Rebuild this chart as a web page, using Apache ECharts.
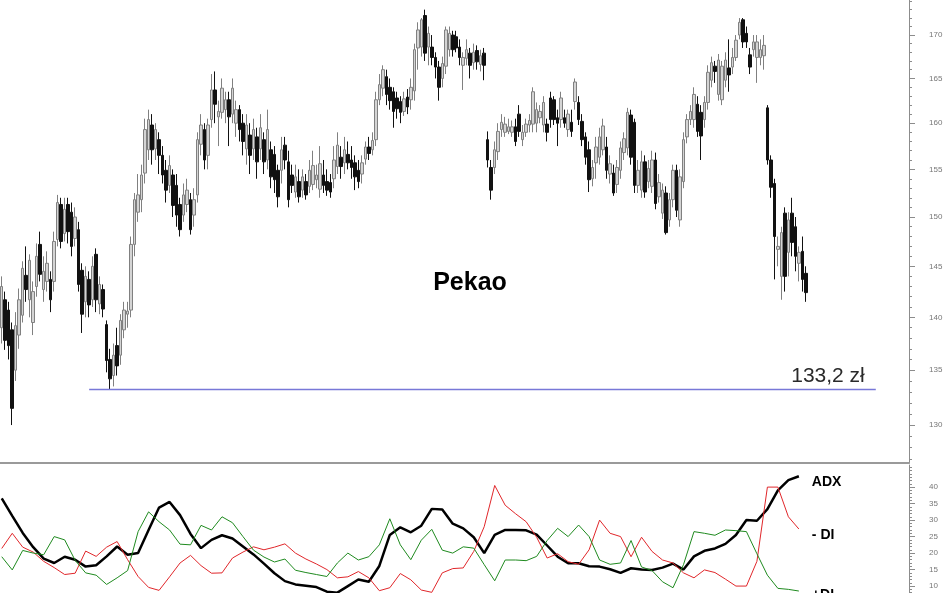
<!DOCTYPE html>
<html><head><meta charset="utf-8">
<script src="https://cdn.jsdelivr.net/npm/echarts@6/dist/echarts.min.js"></script>
<style>html,body{margin:0;padding:0;background:#fff}#c{width:948px;height:593px}</style>
</head><body><div id="c"></div>
<script>
// [open, close, low, high]
const ohlc = [
[139.0,143.0,137.5,144.0],[141.7,137.8,136.9,142.5],[140.7,137.3,136.0,141.5],[138.8,131.5,130.0,139.5],
[135.0,139.2,134.0,140.5],[138.3,141.7,137.0,142.8],[140.2,144.8,139.5,145.5],[144.1,142.7,141.5,147.0],
[141.7,145.6,140.0,146.2],[139.5,142.5,138.3,143.5],[143.0,146.0,142.0,147.3],[147.2,144.2,143.5,148.5],
[142.7,144.5,141.5,146.0],[143.5,145.3,142.5,146.5],[143.7,141.7,140.5,144.5],[143.5,147.5,142.5,148.5],
[147.7,151.5,147.0,152.3],[151.3,147.5,146.8,152.0],[148.3,150.8,147.5,152.0],[151.3,148.5,147.3,152.0],
[150.5,147.0,146.0,151.5],[147.8,150.0,147.0,151.0],[148.7,143.2,142.5,149.5],[144.6,140.3,138.5,145.3],
[141.5,144.0,140.0,145.0],[143.7,141.2,140.0,144.5],[141.7,145.0,141.0,146.0],[146.2,141.7,140.5,146.8],
[141.3,143.2,140.3,144.0],[142.7,140.8,140.0,143.2],[139.3,135.9,134.8,139.7],
[136.0,134.2,133.2,137.0],[134.5,136.4,133.5,137.5],[137.3,135.4,134.5,139.0],[136.4,139.7,135.5,140.3],
[138.8,140.7,138.0,141.5],[140.3,140.6,139.0,141.5],[140.7,147.2,140.0,148.0],[147.2,151.8,146.0,152.5],
[150.5,152.3,149.5,154.5],[151.8,154.4,150.5,155.5],[154.6,159.3,153.5,160.5],[157.1,160.4,156.0,161.5],
[159.8,157.1,155.5,161.0],[157.2,159.3,156.0,160.0],[158.2,156.5,154.5,159.0],[156.5,154.4,153.5,157.5],
[154.9,152.8,151.5,156.0],[153.3,155.4,152.5,156.5],[154.4,151.2,150.0,155.0],[153.3,150.2,149.0,154.5],
[151.3,148.7,148.0,152.0],[150.2,152.3,149.5,153.5],[151.3,152.8,150.5,154.0],[151.8,148.7,148.2,152.5],
[150.2,151.8,149.0,153.0],[152.3,158.2,151.5,159.0],[157.7,159.8,156.5,161.0],[159.3,156.0,155.0,160.0],
[156.5,159.8,155.0,160.5],[160.4,163.7,159.5,165.5],[163.7,162.1,160.0,165.8],[160.7,161.3,157.5,162.5],
[161.2,163.9,160.5,165.0],[161.5,162.6,160.0,163.5],[162.6,160.7,157.5,163.5],[161.0,163.9,160.0,165.0],
[160.0,161.5,158.5,162.5],[161.5,159.3,158.0,162.0],[160.0,158.0,156.5,161.0],[157.2,159.8,155.5,161.0],
[158.7,156.5,154.5,160.0],[157.2,159.3,156.0,160.5],[158.5,155.8,154.0,159.5],[157.2,159.5,156.0,161.0],
[158.2,155.8,154.5,159.0],[156.0,159.3,155.0,161.5],[157.1,154.2,153.0,158.0],[156.6,153.9,152.5,157.5],
[154.9,152.1,151.0,155.5],[154.9,157.1,153.5,158.5],[157.6,156.0,155.0,158.5],[155.8,151.8,151.0,157.0],
[154.4,153.3,152.5,155.5],[152.6,154.2,152.0,155.5],[153.7,152.1,151.5,155.0],[152.8,154.2,152.0,155.0],
[153.7,152.3,151.8,154.5],[153.2,154.9,152.5,156.0],[153.4,155.4,152.8,157.0],[153.9,154.4,153.0,155.5],
[152.9,155.6,152.0,157.5],[154.4,153.3,152.5,156.0],[153.7,152.8,152.2,155.0],[153.6,152.6,152.0,154.5],
[154.0,156.0,153.0,157.5],[155.3,157.6,154.5,159.0],[156.3,155.3,154.0,157.5],[155.7,157.1,154.5,158.5],
[156.6,155.7,155.0,158.0],[156.0,155.2,154.0,157.5],[155.7,154.2,152.8,156.5],[154.9,153.7,153.0,156.0],
[154.5,155.7,153.5,156.5],[156.1,157.4,155.5,158.0],[157.4,156.7,156.0,158.5],[157.1,158.1,156.5,159.0],
[158.2,162.6,157.5,163.5],[162.6,164.3,162.0,165.5],[163.9,166.0,163.0,166.5],[165.2,163.2,162.0,166.0],
[164.0,162.5,161.5,165.0],[163.5,161.3,159.5,164.0],[162.8,161.6,160.5,163.5],[162.4,161.2,160.0,163.0],
[161.3,162.7,160.8,163.5],[162.9,161.8,161.0,163.8],[162.6,164.0,161.5,165.0],[163.6,168.3,162.5,169.0],
[168.5,170.6,166.0,171.5],[168.6,171.8,167.5,172.0],[172.3,167.9,167.0,173.0],[168.6,170.2,166.5,171.0],
[168.6,167.4,166.5,170.0],[167.4,166.3,165.0,168.0],[166.3,164.0,162.5,167.0],[165.0,166.7,164.0,167.5],
[166.4,170.6,165.5,171.0],[168.3,170.2,167.5,171.0],[170.0,168.3,167.5,170.5],[169.8,168.5,168.0,170.5],
[168.6,167.4,166.5,169.5],[166.5,167.4,163.7,168.0],[167.3,168.3,166.5,169.5],[167.9,166.5,165.0,168.5],
[166.8,168.0,166.0,169.0],[168.2,166.9,166.0,168.8],[166.6,167.6,165.8,168.3],[167.9,166.5,164.8,168.5],
[158.2,156.0,155.2,159.1],[155.2,152.8,151.8,156.0],[155.2,157.1,154.5,158.0],[156.9,159.1,156.0,160.0],
[159.3,160.1,158.5,161.0],[159.0,159.9,158.5,160.7],[159.1,159.6,158.8,160.5],[159.0,159.6,158.5,160.3],
[159.6,158.0,157.5,160.5],[161.0,159.1,158.5,162.0],[158.2,159.0,157.5,159.8],[159.0,159.9,158.5,160.5],
[159.8,160.3,159.0,161.0],[159.9,163.5,159.0,164.0],[160.0,161.5,159.0,162.3],[160.6,161.3,160.0,162.0],
[159.8,162.3,159.0,163.0],[159.9,159.0,158.0,160.5],[162.8,160.4,159.5,163.5],[162.6,160.4,159.8,163.0],
[160.6,160.0,157.5,161.5],[160.4,162.8,159.5,163.5],[160.6,160.0,159.5,161.5],[159.3,161.0,158.5,161.5],
[160.1,159.1,158.5,161.5],[162.4,164.6,161.5,165.0],[162.3,160.4,159.8,163.0],[160.2,158.2,157.5,161.0],
[158.5,156.3,155.5,159.0],[157.1,153.9,152.6,158.0],[154.0,155.2,153.2,156.0],[155.7,157.4,154.0,158.5],
[156.3,158.5,155.5,159.5],[157.1,159.7,156.5,160.5],[157.4,154.9,154.0,158.5],[154.5,155.6,153.5,156.5],
[154.6,152.5,152.2,155.5],[153.4,155.2,152.5,156.0],[154.9,157.3,154.0,158.0],[156.8,158.3,156.0,159.0],
[157.3,161.2,156.5,161.7],[160.9,156.3,155.5,161.5],[160.1,153.3,152.5,160.5],[153.3,154.9,152.5,156.0],
[152.8,155.8,152.0,157.0],[155.8,152.6,152.0,156.5],[153.7,155.1,153.0,156.0],[153.2,156.0,152.5,157.0],
[156.0,151.4,150.8,156.8],[152.1,153.6,151.5,154.5],[150.4,152.8,149.8,153.5],[152.5,148.4,148.2,153.2],
[149.7,151.8,149.0,152.5],[151.8,154.9,151.0,155.5],[154.9,150.7,150.0,155.5],[149.7,154.2,149.0,155.0],
[153.7,158.2,153.0,159.0],[158.5,160.4,157.8,161.0],[160.4,161.3,159.8,162.0],[160.4,163.2,159.5,164.0],
[162.1,159.1,158.5,163.0],[161.2,158.6,156.0,162.0],[160.4,162.3,159.5,163.0],[162.3,165.7,161.5,166.5],
[164.8,166.8,164.0,167.5],[166.4,165.8,164.5,167.0],[163.2,167.1,162.5,167.8],[162.6,166.4,162.0,167.0],
[164.8,167.1,164.0,168.0],[166.2,165.4,163.5,169.5],[166.3,167.4,165.5,168.5],[167.4,169.4,167.0,170.0],
[170.0,171.5,169.5,172.0],[171.8,169.2,168.5,172.0],[170.2,169.2,168.5,171.0],[167.7,166.3,165.5,168.5],
[168.3,169.2,167.5,170.0],[167.4,169.2,164.5,170.0],[167.4,168.3,166.5,169.5],[167.6,168.8,166.0,170.0],
[161.7,156.0,155.5,162.0],[156.0,153.1,152.0,156.5],[153.5,148.0,143.7,154.0],[146.7,147.0,145.0,148.0],
[144.0,148.4,141.7,149.0],[150.4,144.0,142.5,151.0],[146.4,149.7,144.0,150.5],[150.4,147.4,146.0,152.0],
[149.0,146.0,144.5,150.0],[145.3,146.4,143.5,147.0],[146.5,143.7,142.5,148.0],[144.3,142.4,141.5,145.0]
];
const adx = [36.6,31.3,26.1,21.8,18.3,17.0,18.9,18.0,15.9,16.3,19.0,22.0,19.5,20.0,27.0,33.8,35.5,31.5,25.8,21.5,24.0,25.4,24.4,22.0,19.6,16.8,13.9,11.5,10.5,10.1,9.7,8.3,8.0,10.0,12.0,11.3,16.1,25.5,27.8,26.3,28.3,33.4,33.2,28.9,27.5,24.8,20.0,25.5,27.0,27.0,26.9,25.6,22.3,18.9,16.9,16.9,16.0,15.9,15.1,14.0,15.4,15.0,14.9,15.6,16.8,15.0,19.0,20.7,21.4,22.8,25.5,30.0,29.8,33.3,39.0,42.1,43.3];
const minusDI = [21.4,26.0,21.8,20.3,17.5,15.6,13.5,13.9,20.6,19.0,21.8,23.5,18.0,12.9,9.6,8.7,12.8,17.0,19.3,16.2,13.9,14.0,18.5,20.3,21.9,21.0,21.8,22.8,20.0,18.2,16.7,15.0,12.5,12.8,14.4,12.5,8.6,9.5,13.8,11.9,8.8,8.1,14.0,15.3,15.5,20.5,28.0,40.5,34.5,31.9,29.5,24.8,18.5,19.8,17.4,16.6,21.0,30.0,26.0,25.0,18.9,24.8,20.5,17.9,17.0,14.0,12.5,14.9,14.1,12.1,10.0,10.0,17.5,40.0,40.0,31.0,27.3];
const plusDI = [18.9,14.9,20.8,20.0,19.5,25.0,24.0,17.8,14.0,13.3,10.5,12.5,14.7,26.5,32.5,29.5,27.0,22.7,22.5,28.4,27.0,31.0,29.2,25.0,20.9,18.8,17.3,18.2,14.8,14.1,13.5,12.9,17.0,20.0,17.9,18.9,22.5,30.4,22.5,18.0,23.9,27.2,20.9,20.0,21.9,21.5,16.5,11.6,17.9,17.9,17.7,19.0,23.8,27.5,25.0,28.5,25.0,17.9,16.6,17.0,23.8,15.8,14.7,11.3,9.5,16.5,26.5,26.0,25.4,27.0,26.8,26.5,19.8,13.3,9.3,9.0,8.5];
const priceTicks = [130,135,140,145,150,155,160,165,170];
const dmiTicks = [10,15,20,25,30,35,40];
const supportLevel = 133.2;
const supportText = '133,2 zł';
const supportFromDay = 25, supportToDay = 250;
const totalDays = 260;
const lineStep = 3; // indicator sampled every 3 sessions
const chartTitle = 'Pekao';
const seriesNames = ['ADX', '- DI', '+DI'];

const days = Array.from({length: totalDays}, (_, i) => i);
const priceMinor = []; for (let v = 127; v <= 174; v++) priceMinor.push(v);
const dmiMinor = []; for (let v = 8; v <= 46; v++) dmiMinor.push(v);
const pts = arr => arr.map((v, i) => [i * lineStep, v]);
const FONT = '"Liberation Sans", Arial, sans-serif';
const axisGray = '#8c8c8c';

const chart = echarts.init(document.getElementById('c'), null, {renderer: 'canvas'});
const endLbl = (txt, dy) => ({
  show: true, formatter: txt, distance: 13, offset: [0, dy],
  fontFamily: FONT, fontWeight: 'bold', fontSize: 14, color: '#000'
});
chart.setOption({
  animation: false,
  backgroundColor: '#fff',
  title: {
    text: chartTitle, left: 470, top: 271, textAlign: 'center', padding: 0,
    textStyle: {fontFamily: FONT, fontWeight: 'bold', fontSize: 25, color: '#000'}
  },
  grid: [
    {left: 0, right: 39, top: 0, height: 463, outerBoundsMode: 'none'},
    {left: 0, right: 39, top: 465, height: 128, outerBoundsMode: 'none'}
  ],
  xAxis: [
    {type: 'category', gridIndex: 0, data: days, boundaryGap: true,
     axisLine: {show: true, onZero: false, lineStyle: {color: '#9a9a9a', width: 2}},
     axisTick: {show: false}, axisLabel: {show: false}, splitLine: {show: false}},
    {type: 'value', gridIndex: 1, min: -0.5, max: totalDays - 0.5, show: false}
  ],
  yAxis: [
    {type: 'log', gridIndex: 0, position: 'right', min: 126.65, max: 174.15,
     axisLine: {show: true, onZero: false, lineStyle: {color: axisGray}},
     axisTick: {show: true, customValues: priceTicks, length: 6, lineStyle: {color: axisGray}},
     axisLabel: {customValues: priceTicks, margin: 20, fontSize: 8, color: '#777', fontFamily: FONT},
     splitLine: {show: false}, minorTick: {show: false}},
    {type: 'log', gridIndex: 0, position: 'right', min: 126.65, max: 174.15,
     axisLine: {show: false, onZero: false},
     axisTick: {show: true, customValues: priceMinor, length: 3, lineStyle: {color: axisGray}},
     axisLabel: {show: false}, splitLine: {show: false}},
    {type: 'value', gridIndex: 1, position: 'right', min: 7.9, max: 46.7,
     axisLine: {show: true, onZero: false, lineStyle: {color: axisGray}},
     axisTick: {show: true, customValues: dmiTicks, length: 6, lineStyle: {color: axisGray}},
     axisLabel: {customValues: dmiTicks, margin: 20, fontSize: 8, color: '#777', fontFamily: FONT},
     splitLine: {show: false}},
    {type: 'value', gridIndex: 1, position: 'right', min: 7.9, max: 46.7,
     axisLine: {show: false, onZero: false},
     axisTick: {show: true, customValues: dmiMinor, length: 3, lineStyle: {color: axisGray}},
     axisLabel: {show: false}, splitLine: {show: false}}
  ],
  series: [
    {type: 'candlestick', name: chartTitle, xAxisIndex: 0, yAxisIndex: 0, data: ohlc,
     barWidth: 3,
     itemStyle: {color: '#d4d4d4', color0: '#111', borderColor: '#808080', borderColor0: '#111', borderWidth: 1},
     markLine: {
       silent: true, symbol: 'none',
       lineStyle: {color: '#7878d8', width: 1.3, type: 'solid'},
       label: {show: true, position: 'insideEndTop', formatter: supportText, distance: [11, 3],
               fontFamily: FONT, fontSize: 21, color: '#2a2a2a'},
       data: [[{coord: [supportFromDay, supportLevel]}, {coord: [supportToDay, supportLevel]}]]
     }},
    {type: 'line', name: seriesNames[0], xAxisIndex: 1, yAxisIndex: 2, data: pts(adx),
     showSymbol: false, lineStyle: {color: '#000', width: 2.5}, endLabel: endLbl(seriesNames[0], 6)},
    {type: 'line', name: seriesNames[1], xAxisIndex: 1, yAxisIndex: 2, data: pts(minusDI),
     showSymbol: false, lineStyle: {color: '#e0262a', width: 1}, endLabel: endLbl(seriesNames[1], 6)},
    {type: 'line', name: seriesNames[2], xAxisIndex: 1, yAxisIndex: 2, data: pts(plusDI),
     showSymbol: false, lineStyle: {color: '#1f8a1f', width: 1}, endLabel: endLbl(seriesNames[2], 4)}
  ]
});
</script></body></html>
